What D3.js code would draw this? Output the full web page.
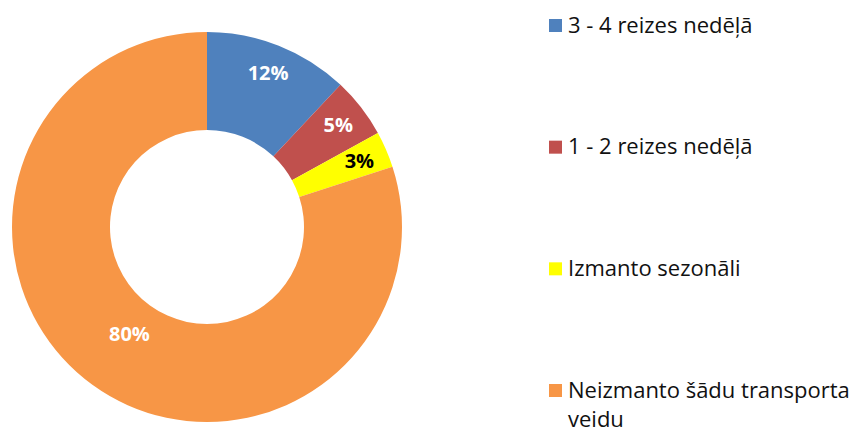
<!DOCTYPE html>
<html>
<head>
<meta charset="utf-8">
<script src="https://cdn.jsdelivr.net/npm/d3@7"></script>
<style>
  body { margin: 0; background: #fff; }
  text { font-family: "Open Sans", Lato, sans-serif; }
</style>
</head>
<body>
<script>
// chart data
const categories = ['3 - 4 reizes nedēļā', '1 - 2 reizes nedēļā', 'Izmanto sezonāli', 'Neizmanto šādu transporta veidu'];
const values = [12, 5, 3, 80];
const colors = ['#4F81BD', '#C0504D', '#FFFF00', '#F79646'];
const labelColors = ['#fff', '#fff', '#000', '#fff'];

const width = 851;
const height = 434;
const cx = 207, cy = 227;
const outerR = 195, innerR = 97;

const svg = d3.select('body').append('svg')
  .attr('width', width)
  .attr('height', height);

const pie = d3.pie().sort(null).value(d => d);
const arcs = pie(values);

const arc = d3.arc().innerRadius(innerR).outerRadius(outerR);

const g = svg.append('g').attr('transform', `translate(${cx},${cy})`);

g.selectAll('path')
  .data(arcs)
  .enter().append('path')
  .attr('d', arc)
  .attr('fill', (d, i) => colors[i]);

// labels: small slices sit further out, the big one nearer the hole
const labelArc = d => {
  const r = (d.endAngle - d.startAngle) > Math.PI ? 132 : 166;
  return d3.arc().innerRadius(r).outerRadius(r).centroid(d);
};

g.selectAll('.lbl')
  .data(arcs)
  .enter().append('text')
  .attr('class', 'lbl')
  .attr('transform', d => `translate(${labelArc(d)})`)
  .attr('text-anchor', 'middle')
  .attr('dy', '0.35em')
  .attr('font-size', 20)
  .attr('font-weight', 'bold')
  .attr('fill', (d, i) => labelColors[i])
  .text(d => d.value + '%');

// legend
const legendY = d3.scalePoint()
  .domain(categories)
  .range([25, 390]);

const legend = svg.append('g')
  .selectAll('.item')
  .data(categories)
  .enter().append('g')
  .attr('class', 'item')
  .attr('transform', d => `translate(549,${legendY(d)})`);

legend.append('rect')
  .attr('x', 0)
  .attr('y', -6)
  .attr('width', 13)
  .attr('height', 13)
  .attr('fill', (d, i) => colors[i]);

legend.append('text')
  .attr('x', 19)
  .attr('font-size', 22)
  .attr('fill', '#111')
  .each(function(d) {
    const t = d3.select(this);
    const lines = d === 'Neizmanto šādu transporta veidu'
      ? ['Neizmanto šādu transporta', 'veidu'] : [d];
    lines.forEach((l, k) => {
      t.append('tspan')
        .attr('x', 19)
        .attr('dy', k === 0 ? '0.35em' : 29)
        .text(l);
    });
  });
</script>
</body>
</html>
